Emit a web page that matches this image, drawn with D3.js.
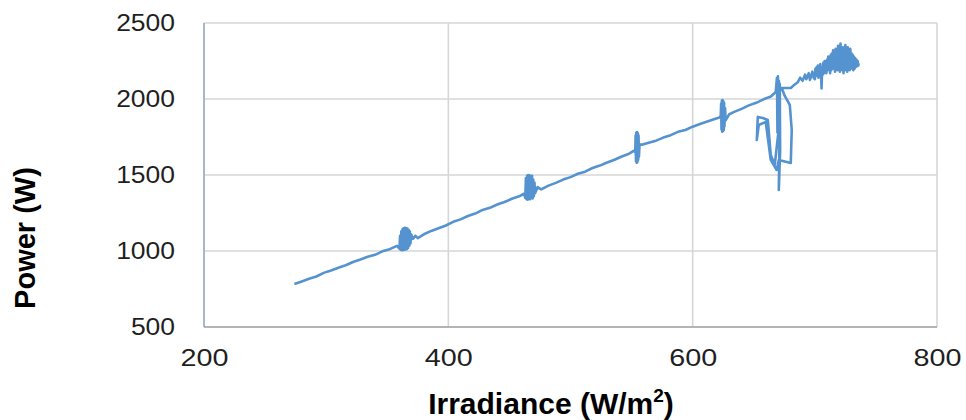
<!DOCTYPE html>
<html>
<head>
<meta charset="utf-8">
<script src="https://cdn.jsdelivr.net/npm/d3@7"></script>
<style>
  body { margin: 0; background: #fff; }
  svg text { font-family: "Liberation Sans", Arial, sans-serif; }
</style>
</head>
<body>
<svg width="966" height="420"></svg>
<script>

// data (irradiance in W/m2, power in W), in drawing order
const irradiance = [
  274, 280, 286, 292, 298, 304, 310, 316, 322, 328, 334, 340, 346, 352, 358,
  360, 360.5, 361, 361.5, 362, 362.5, 363, 363.5, 364, 364.5, 365, 365.5, 366, 366.5,
  367, 367.5, 368, 368.5, 369, 369.5, 371, 373, 375,
  380, 386, 392, 398, 404, 410, 416, 422, 428, 434, 440, 446, 452, 458, 462,
  463, 463.5, 464, 464.5, 465, 465.5, 466, 466.5, 467, 467.5, 468, 468.5, 469, 469.5,
  470, 470.5, 471, 473, 476,
  482, 488, 494, 500, 506, 512, 518, 524, 530, 536, 542, 548, 552,
  553, 553.3, 553.6, 553.9, 554.2, 554.5, 554.8, 555.1, 555.4, 555.7, 556, 556.5, 559,
  564, 570, 576, 582, 588, 594, 600, 606, 612, 618, 622,
  623, 623.3, 623.6, 623.9, 624.2, 624.5, 624.8, 625.1, 625.4, 625.7, 626, 626.5, 627, 630,
  634, 640, 646, 652, 658, 664, 668,
  669, 669.4, 669.8, 670.2, 670.6, 671, 671.3, 671.6, 670.5, 671.3, 667.2, 663.9, 661.5,
  657.4, 653.3, 652.5, 654.1, 659.8, 663.9, 668.8, 670.5, 680.3, 681.1, 679.5, 675.4,
  672.9, 680.3,
  682, 686, 688, 690, 692, 693, 695, 696, 698, 699,
  700, 700.5, 701, 701.5, 702, 702.5, 703, 703.5, 704, 704.5, 705, 705.5, 706, 706.5,
  707, 707.5, 708, 708.5, 709, 709.5, 710, 710.5, 711, 711.5, 712, 712.5, 713, 713.5,
  714, 714.5, 715, 715.5, 716, 716.5, 717, 717.5, 718, 718.5, 719, 719.5, 720, 720.5,
  721, 721.5, 722, 722.5, 723, 723.5, 724, 724.5, 725, 725.5, 726, 726.5, 727, 727.5,
  728, 728.5, 729, 729.5, 730, 730.5, 731, 731.5, 732, 732.5, 733, 733.5, 734, 734.5,
  735, 735.5, 736
];

const power = [
  783, 800, 818, 832, 856, 872, 890, 906, 928, 944, 962, 975, 998, 1012, 1034,
  1015, 1100, 1008, 1130, 1005, 1145, 1007, 1150, 1008, 1152, 1010, 1150, 1012, 1148,
  1020, 1140, 1035, 1130, 1050, 1110, 1080, 1100, 1085,
  1110, 1132, 1150, 1168, 1192, 1208, 1230, 1246, 1270, 1284, 1306, 1322, 1344, 1360, 1378,
  1350, 1480, 1340, 1495, 1338, 1500, 1345, 1498, 1340, 1490, 1350, 1495, 1345, 1470,
  1360, 1450, 1380, 1420, 1405,
  1430, 1448, 1470, 1486, 1508, 1522, 1546, 1562, 1582, 1600, 1622, 1640, 1660,
  1650, 1760, 1590, 1780, 1580, 1783, 1585, 1775, 1600, 1760, 1620, 1700, 1700,
  1712, 1726, 1746, 1762, 1784, 1796, 1818, 1836, 1852, 1868, 1878,
  1890, 1970, 1800, 1990, 1785, 1993, 1790, 1985, 1795, 1975, 1820, 1940, 1860, 1900,
  1915, 1935, 1958, 1975, 1998, 2016, 2046,
  2140, 1780, 2150, 1700, 2120, 1750, 2100, 1660, 1401, 1862, 1566, 1632, 1862,
  1875, 1882, 1730, 1829, 1849, 1599, 1533, 1599, 1579, 1796, 1961, 2020,
  2072, 2072,
  2085, 2110, 2140, 2120, 2160, 2130, 2170, 2125, 2180, 2140,
  2130, 2200, 2150, 2210, 2160, 2220, 2140, 2200, 2170, 2230, 2180, 2070, 2200, 2160,
  2240, 2170, 2250, 2180, 2230, 2170, 2260, 2190, 2280, 2200, 2250, 2170, 2290, 2190,
  2300, 2200, 2320, 2210, 2300, 2180, 2330, 2200, 2310, 2190, 2350, 2200, 2340, 2180,
  2365, 2210, 2330, 2190, 2340, 2170, 2320, 2190, 2355, 2200, 2300, 2180, 2340, 2200,
  2320, 2190, 2330, 2210, 2300, 2200, 2290, 2190, 2280, 2200, 2270, 2210, 2260, 2215,
  2250, 2220, 2235
];

const xTickValues = [200, 400, 600, 800];
const yTickValues = [500, 1000, 1500, 2000, 2500];

const xLabel = "Irradiance (W/m";
const yLabel = "Power (W)";

const line_color = "#5593d0";
const grid_color = "#d6d6d6";

let svg = d3.select("svg");
let margin = {top: 23, right: 29, bottom: 93, left: 204};
let width = +svg.attr("width") - margin.left - margin.right;
let height = +svg.attr("height") - margin.top - margin.bottom;

let g = svg.append("g")
  .attr("transform", "translate(" + margin.left + "," + margin.top + ")");

let x = d3.scaleLinear().domain([200, 800]).range([0, width]);
let y = d3.scaleLinear().domain([500, 2500]).range([height, 0]);

// stretches text horizontally, the picture is a bit wider than tall
function stretchText(selection, factor) {
  selection.each(function() {
    let w = this.getComputedTextLength();
    d3.select(this)
      .attr("textLength", w * factor)
      .attr("lengthAdjust", "spacingAndGlyphs");
  });
}

/// grid /////

g.append("g")
  .selectAll("line")
  .data(yTickValues)
  .enter().append("line")
    .attr("x1", 0)
    .attr("x2", width)
    .attr("y1", function(d) { return y(d); })
    .attr("y2", function(d) { return y(d); })
    .attr("stroke", grid_color)
    .attr("stroke-width", 1.6);

g.append("g")
  .selectAll("line")
  .data(xTickValues)
  .enter().append("line")
    .attr("x1", function(d) { return x(d); })
    .attr("x2", function(d) { return x(d); })
    .attr("y1", 0)
    .attr("y2", height)
    .attr("stroke", grid_color)
    .attr("stroke-width", 1.6);

// left and bottom axis lines are a bit darker
g.append("line")
  .attr("x1", 0).attr("x2", 0)
  .attr("y1", 0).attr("y2", height)
  .attr("stroke", "#a9b6c6")
  .attr("stroke-width", 2);

g.append("line")
  .attr("x1", 0).attr("x2", width)
  .attr("y1", height).attr("y2", height)
  .attr("stroke", "#a6a6a6")
  .attr("stroke-width", 1.5);

/// axes /////

let xAxis = g.append("g")
  .attr("transform", "translate(0," + height + ")")
  .call(d3.axisBottom(x).tickValues(xTickValues).tickSize(0).tickPadding(23));

let yAxis = g.append("g")
  .call(d3.axisLeft(y).tickValues(yTickValues).tickFormat(d3.format("d"))
          .tickSize(0).tickPadding(29));

svg.selectAll(".domain").remove();

xAxis.selectAll("text")
  .attr("font-size", 23)
  .attr("font-family", "Liberation Sans, Arial, sans-serif")
  .attr("fill", "#1f1f1f")
  .call(stretchText, 1.25);

yAxis.selectAll("text")
  .attr("font-size", 23)
  .attr("font-family", "Liberation Sans, Arial, sans-serif")
  .attr("fill", "#1f1f1f")
  .call(stretchText, 1.15);

/// the series /////

let points = irradiance.map(function(d, i) { return [d, power[i]]; });

g.append("path")
  .datum(points)
  .attr("fill", "none")
  .attr("stroke", line_color)
  .attr("stroke-width", 2.6)
  .attr("stroke-linejoin", "round")
  .attr("d", d3.line()
    .x(function(d) { return x(d[0]); })
    .y(function(d) { return y(d[1]); }));

/// titles /////

let xt = svg.append("text")
  .attr("x", 551)
  .attr("y", 414)
  .attr("text-anchor", "middle")
  .attr("font-size", 30)
  .attr("font-weight", "bold")
  .attr("fill", "#000");
xt.append("tspan").text(xLabel);
xt.append("tspan").attr("font-size", 19).attr("dy", -12).text("2");
xt.append("tspan").attr("dy", 12).text(")");

svg.append("text")
  .attr("transform", "translate(35,238) rotate(-90)")
  .attr("text-anchor", "middle")
  .attr("font-size", 29)
  .attr("font-weight", "bold")
  .attr("fill", "#000")
  .text(yLabel);

</script>
</body>
</html>
